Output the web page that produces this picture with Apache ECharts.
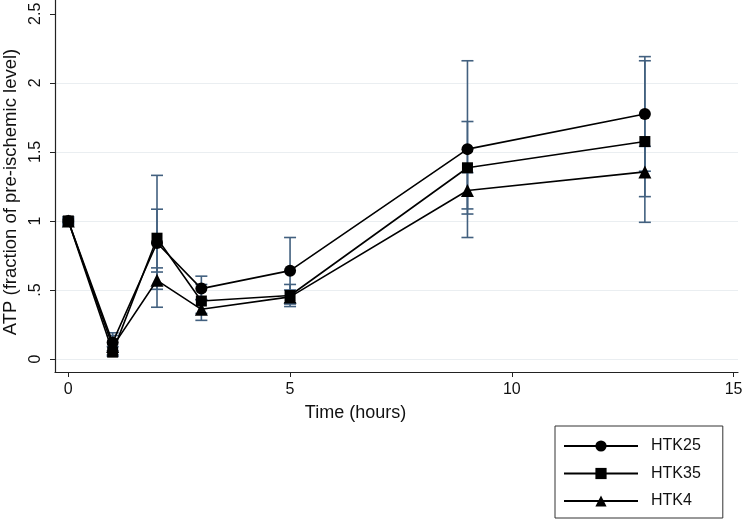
<!DOCTYPE html>
<html>
<head>
<meta charset="utf-8">
<script src="https://cdn.jsdelivr.net/npm/echarts@6/dist/echarts.min.js"></script>
<style>
html,body{margin:0;padding:0;background:#fff;}
#chart{width:750px;height:521px;}
</style>
</head>
<body>
<div id="chart"></div>
<script>
// ---- data ----
const times = [0, 1, 2, 3, 5, 9, 13];
const seriesNames = ['HTK25', 'HTK35', 'HTK4'];
const htk25 = [1.0, 0.12, 0.84, 0.51, 0.64, 1.52, 1.775];
const htk35 = [1.0, 0.05, 0.875, 0.42, 0.46, 1.385, 1.575];
const htk4 = [1.0, 0.09, 0.57, 0.36, 0.45, 1.22, 1.355];
const htk25Low = [0.97, 0.06, 0.63, 0.43, 0.40, 0.88, 1.36];
const htk25High = [1.03, 0.19, 1.085, 0.60, 0.88, 2.16, 2.19];
const htk35Low = [0.99, 0.02, 0.375, 0.33, 0.38, 1.05, 0.99];
const htk35High = [1.01, 0.09, 1.33, 0.54, 0.54, 1.72, 2.16];
const htk4Low = [0.98, 0.03, 0.505, 0.28, 0.40, 1.087, 1.176];
const htk4High = [1.02, 0.17, 0.66, 0.43, 0.50, 1.35, 1.54];
const xTicks = [0, 5, 10, 15];
const yTicks = [0, 0.5, 1, 1.5, 2, 2.5];
const yGrid = [0, 0.5, 1, 1.5, 2];

const means = [htk25, htk35, htk4];
const lows = [htk25Low, htk35Low, htk4Low];
const highs = [htk25High, htk35High, htk4High];
const symbols = ['circle', 'rect', 'triangle'];
const symbolSizes = [12, 11, 13];

const FONT = '"Liberation Sans", Arial, Helvetica, sans-serif';
const errColor = '#42607f';

function errSeries(i) {
  return {
    type: 'custom',
    z: 1,
    silent: true,
    encode: { x: 0, y: [1, 2] },
    data: times.map((t, k) => [t, lows[i][k], highs[i][k]]),
    renderItem: function (params, api) {
      const x = api.value(0);
      const lo = api.coord([x, api.value(1)]);
      const hi = api.coord([x, api.value(2)]);
      const w = 6;
      const st = { stroke: errColor, lineWidth: 1.6 };
      return {
        type: 'group',
        children: [
          { type: 'line', shape: { x1: lo[0], y1: lo[1], x2: hi[0], y2: hi[1] }, style: st },
          { type: 'line', shape: { x1: lo[0] - w, y1: lo[1], x2: lo[0] + w, y2: lo[1] }, style: st },
          { type: 'line', shape: { x1: hi[0] - w, y1: hi[1], x2: hi[0] + w, y2: hi[1] }, style: st }
        ]
      };
    }
  };
}

function lineSeries(i) {
  const s = {
    type: 'line',
    name: seriesNames[i],
    z: 3,
    data: times.map((t, k) => [t, means[i][k]]),
    symbol: symbols[i],
    symbolSize: symbolSizes[i],
    showAllSymbol: true,
    itemStyle: { color: '#000' },
    lineStyle: { color: '#000', width: 1.6 },
    emphasis: { disabled: true },
    animation: false
  };
  if (i === 0) {
    s.markLine = {
      silent: true,
      symbol: 'none',
      z: 0,
      label: { show: false },
      lineStyle: { color: '#eaeef1', width: 1.2, type: 'solid' },
      data: yGrid.map(v => ({ yAxis: v }))
    };
  }
  return s;
}

const chart = echarts.init(document.getElementById('chart'), null, { renderer: 'canvas' });
chart.setOption({
  animation: false,
  backgroundColor: '#fff',
  textStyle: { fontFamily: FONT },
  grid: { left: 55, right: 12, top: 0, bottom: 149, containLabel: false, outerBoundsMode: 'none' },
  xAxis: {
    type: 'value',
    min: -0.3,
    max: 15.1,
    name: 'Time (hours)',
    nameLocation: 'middle',
    nameGap: 32,
    nameTextStyle: { fontSize: 18, color: '#111', fontFamily: FONT, padding: [0, 82, 0, 0] },
    axisLine: { show: true, onZero: false, lineStyle: { color: '#222', width: 1.2 } },
    axisTick: { show: true, customValues: xTicks, length: 5, lineStyle: { color: '#222' } },
    axisLabel: { customValues: xTicks, fontSize: 16, color: '#111', margin: 10, fontFamily: FONT },
    splitLine: { show: false }
  },
  yAxis: {
    type: 'value',
    min: -0.094,
    max: 2.6,
    name: 'ATP (fraction of pre-ischemic level)',
    nameLocation: 'middle',
    nameGap: 30,
    nameTextStyle: { fontSize: 18.5, color: '#111', fontFamily: FONT, padding: [0, 12, 0, 0] },
    axisLine: { show: true, onZero: false, lineStyle: { color: '#222', width: 1.2 } },
    axisTick: { show: true, customValues: yTicks, length: 5, lineStyle: { color: '#222' } },
    axisLabel: {
      customValues: yTicks,
      rotate: 90,
      fontSize: 16,
      color: '#111',
      margin: 11,
      fontFamily: FONT,
      formatter: v => (v === 0 ? '0' : String(v).replace(/^0\./, '.'))
    },
    splitLine: { show: false }
  },
  legend: {
    data: seriesNames,
    orient: 'vertical',
    left: 555,
    top: 426,
    height: 95,
    padding: [12, 22, 9, 8],
    itemWidth: 74,
    itemHeight: 14,
    itemGap: 11.5,
    borderColor: '#333',
    borderWidth: 1,
    textStyle: { fontSize: 16, lineHeight: 14, color: '#111', fontFamily: FONT, padding: [0, 0, 0, 8] },
    selectedMode: false
  },
  series: [errSeries(0), errSeries(1), errSeries(2), lineSeries(0), lineSeries(1), lineSeries(2)]
});
</script>
</body>
</html>
